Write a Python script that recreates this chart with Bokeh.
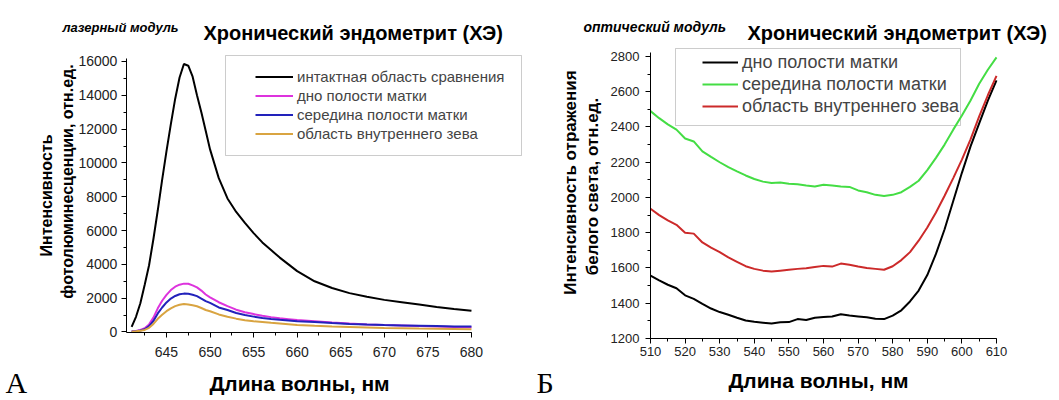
import math
from bokeh.plotting import figure
from bokeh.layouts import row
from bokeh.models import Label, SingleIntervalTicker, Range1d, BoxAnnotation
from bokeh.embed import file_html
from bokeh.resources import INLINE

FONT = "Liberation Sans"

# ---------------- Panel A: laser module (photoluminescence) ----------------
wl_a = [641, 641.5, 642, 642.5, 643, 643.5, 644, 644.5, 645, 645.5, 646, 646.5,
        647, 647.5, 648, 648.5, 649, 649.5, 650, 651, 652, 653, 654, 655, 656,
        657, 658, 659, 660, 662, 664, 666, 668, 670, 672, 674, 676, 678, 680]
intact_a = [300, 900, 1700, 2800, 3950, 5500, 7200, 9000, 10700, 12300, 13800, 15050,
            15850, 15750, 15100, 14000, 13000, 11900, 10800, 9100, 7900, 7100, 6450, 5850, 5300,
            4850, 4400, 4000, 3600, 3000, 2600, 2300, 2080, 1900, 1760, 1620, 1480, 1360, 1250]
fundus_a = [30, 60, 120, 220, 450, 850, 1400, 1850, 2200, 2480, 2680, 2800,
            2860, 2850, 2760, 2640, 2450, 2220, 2050, 1760, 1530, 1320, 1170, 1060, 960,
            880, 810, 760, 710, 640, 560, 500, 450, 410, 380, 350, 320, 300, 280]
middle_a = [30, 50, 90, 160, 350, 650, 1100, 1450, 1750, 1980, 2130, 2230,
            2270, 2260, 2200, 2120, 1980, 1830, 1720, 1450, 1300, 1120, 1000, 910, 830,
            770, 720, 680, 640, 590, 530, 480, 440, 410, 390, 370, 350, 330, 320]
os_a = [20, 40, 70, 120, 250, 480, 780, 1020, 1230, 1400, 1530, 1610,
        1650, 1630, 1580, 1520, 1420, 1300, 1230, 1040, 900, 790, 700, 640, 590,
        540, 500, 460, 420, 370, 330, 300, 270, 240, 220, 200, 190, 175, 160]
names_a = ["интактная область сравнения", "дно полости матки",
           "середина полости матки", "область внутреннего зева"]
colors_a = ["#000000", "#dd33dd", "#2222bb", "#d9a441"]

# ---------------- Panel B: optical module (white light reflection) ----------------
wl_b = [510, 512.5, 515, 517.5, 520, 522.5, 525, 527.5, 530, 532.5, 535, 537.5,
        540, 542.5, 545, 547.5, 550, 552.5, 555, 557.5, 560, 562.5, 565, 567.5,
        570, 572.5, 575, 577.5, 580, 582.5, 585, 587.5, 590, 592.5, 595, 597.5,
        600, 602.5, 605, 607.5, 610]
fundus_b = [1557, 1530, 1505, 1485, 1445, 1425, 1397, 1370, 1350, 1335, 1318, 1302,
            1295, 1290, 1285, 1292, 1293, 1310, 1305, 1318, 1322, 1325, 1338, 1330,
            1325, 1320, 1312, 1310, 1330, 1360, 1410, 1472, 1560, 1680, 1820, 1980,
            2140, 2290, 2420, 2550, 2665]
middle_b = [2490, 2450, 2415, 2385, 2335, 2318, 2262, 2230, 2200, 2172, 2148, 2125,
            2105, 2090, 2082, 2085, 2078, 2075, 2068, 2062, 2072, 2068, 2062, 2060,
            2040, 2030, 2015, 2008, 2015, 2030, 2060, 2095, 2155, 2225, 2300, 2385,
            2465, 2550, 2645, 2725, 2795]
os_b = [1936, 1900, 1870, 1845, 1800, 1795, 1745, 1715, 1690, 1660, 1635, 1610,
        1595, 1585, 1580, 1585, 1590, 1595, 1598, 1605, 1612, 1608, 1625, 1618,
        1608, 1600, 1595, 1590, 1610, 1645, 1690, 1755, 1830, 1915, 2010, 2110,
        2215, 2330, 2460, 2580, 2690]
names_b = ["дно полости матки", "середина полости матки", "область внутреннего зева"]
colors_b = ["#000000", "#44dd44", "#cc2a2a"]

TITLE = "Хронический эндометрит (ХЭ)"
XLABEL = "Длина волны, нм"
H = 400


def style_axes(p, tick_size, xstand, ystand, xloc, yloc, xb, yb):
    p.outline_line_color = None
    p.xgrid.visible = False
    p.ygrid.visible = False
    for ax in (p.xaxis[0], p.yaxis[0]):
        ax.axis_line_color = "black"
        ax.axis_line_width = 1
        ax.major_tick_line_color = "black"
        ax.minor_tick_line_color = "black"
        ax.major_tick_out = 5
        ax.major_tick_in = 0
        ax.minor_tick_out = 3
        ax.minor_tick_in = 0
        ax.major_label_text_font = FONT
        ax.major_label_text_font_size = tick_size
        ax.major_label_text_color = "#222222"
    p.xaxis[0].major_label_standoff = xstand
    p.yaxis[0].major_label_standoff = ystand
    p.xaxis[0].fixed_location = xloc
    p.yaxis[0].fixed_location = yloc
    p.xaxis[0].bounds = xb
    p.yaxis[0].bounds = yb


def add_text(p, sx, sy, text, size, style="normal", font=FONT, align="left",
             baseline="middle", angle=0.0):
    p.add_layout(Label(x=sx, y=sy, x_units="screen", y_units="screen", text=text,
                       text_font=font, text_font_size=size, text_font_style=style,
                       text_baseline=baseline, text_align=align, text_color="black",
                       angle=angle))


def style_legend(p, loc, size, h, gw, box):
    lg = p.legend[0]
    lg.location = loc
    lg.label_text_font = FONT
    lg.label_text_font_size = size
    lg.label_height = h
    lg.glyph_height = h
    lg.glyph_width = gw
    lg.label_standoff = 4
    lg.spacing = 0
    lg.padding = 0
    lg.margin = 0
    lg.border_line_color = None
    lg.background_fill_alpha = 0
    left, right, bottom, top = box
    p.add_layout(BoxAnnotation(left=left, right=right, bottom=bottom, top=top,
                               left_units="screen", right_units="screen",
                               bottom_units="screen", top_units="screen",
                               fill_color="white", fill_alpha=1.0,
                               line_color="#555555", line_width=1, level="underlay"))


def make_fig(width, xr, yr):
    p = figure(width=width, height=H, output_backend="svg", toolbar_location=None,
               x_range=Range1d(*xr), y_range=Range1d(*yr),
               min_border=0, min_border_left=0, min_border_right=0,
               min_border_top=0, min_border_bottom=0)
    p.background_fill_color = "white"
    p.border_fill_color = "white"
    return p


# ---------- figure A (canvas = frame; axes fixed at data positions) ----------
pa = make_fig(535, (625.95, 687.35), (-4052, 19608))
for ys, name, col in zip([intact_a, fundus_a, middle_a, os_a], names_a, colors_a):
    pa.line(wl_a, ys, line_color=col, line_width=2, legend_label=name)
pa.xaxis[0].ticker = SingleIntervalTicker(interval=5, num_minor_ticks=2)
pa.yaxis[0].ticker = SingleIntervalTicker(interval=2000, num_minor_ticks=2)
style_axes(pa, "14px", 10, 4, -20, 640.4, (640.4, 680), (-20, 16178))
style_legend(pa, (255, 257), "15px", 19, 38, (225, 521, H - 155, H - 55))
add_text(pa, 62, H - 27, "лазерный модуль", "13px", "bold italic")
add_text(pa, 203, H - 32, TITLE, "20px", "bold")
add_text(pa, 299, H - 383, XLABEL, "21px", "bold", align="center")
add_text(pa, 46, H - 195, "Интенсивность", "16px", "bold", align="center",
         angle=math.pi / 2)
add_text(pa, 67, H - 181, "фотолюминесценции, отн.ед.", "16px", "bold", align="center",
         angle=math.pi / 2)
add_text(pa, 5, 18, "А", "30px", "normal", "Liberation Serif")

# ---------- figure B ----------
pb = make_fig(524, (476.76, 628.21), (848.2, 3117.7))
for ys, name, col in zip([fundus_b, middle_b, os_b], names_b, colors_b):
    pb.line(wl_b, ys, line_color=col, line_width=2, legend_label=name)
pb.xaxis[0].ticker = SingleIntervalTicker(interval=10, num_minor_ticks=2)
pb.yaxis[0].ticker = SingleIntervalTicker(interval=200, num_minor_ticks=2)
style_axes(pb, "13px", 4, 6, 1200, 510, (510, 610), (1200, 2820))
style_legend(pb, (167, 283), "18px", 22, 36, (140, 425, H - 125, H - 48))
add_text(pb, 48, H - 26, "оптический модуль", "14px", "bold italic")
add_text(pb, 212, H - 32, TITLE, "20px", "bold")
add_text(pb, 283, H - 380, XLABEL, "21px", "bold", align="center")
add_text(pb, 35, H - 182, "Интенсивность отражения", "17px", "bold", align="center",
         angle=math.pi / 2)
add_text(pb, 57, H - 186, "белого света, отн.ед.", "17px", "bold", align="center",
         angle=math.pi / 2)
add_text(pb, 1, 18, "Б", "30px", "normal", "Liberation Serif")

layout = row(pa, pb)
open("out.html", "w").write(file_html(layout, INLINE))
